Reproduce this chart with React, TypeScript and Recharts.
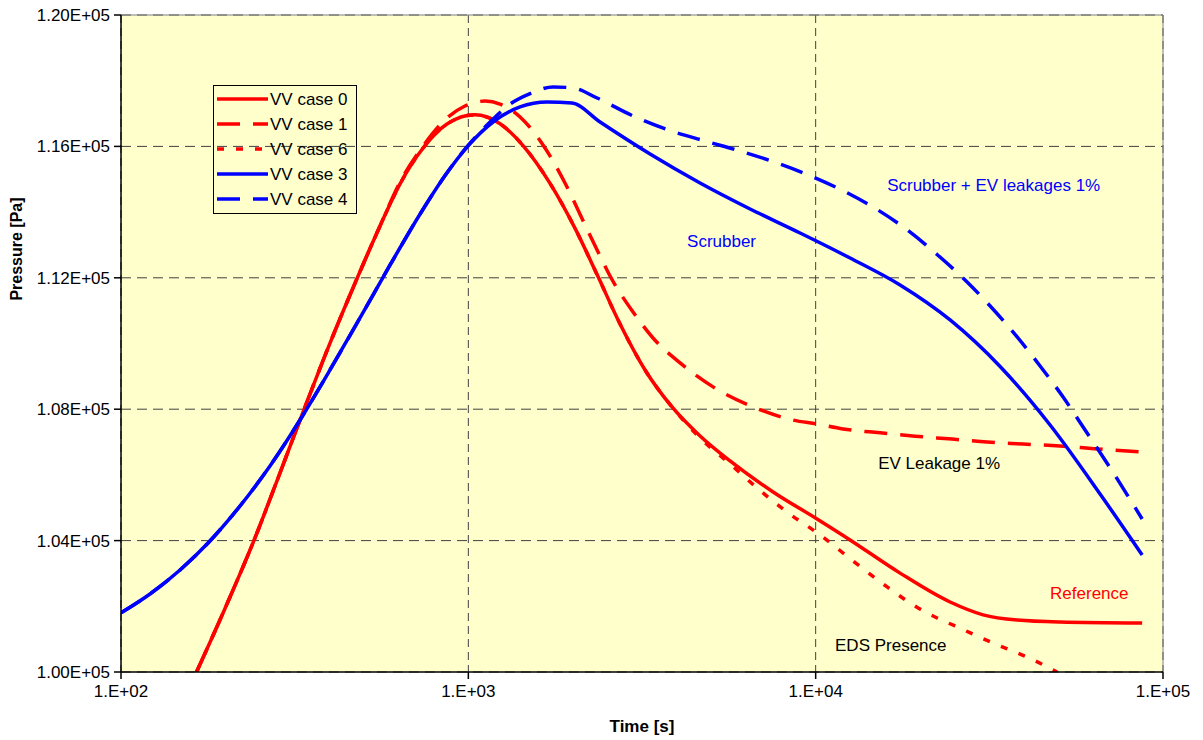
import React from 'react'
import {
  CartesianGrid,
  Legend,
  Line,
  LineChart,
  ReferenceDot,
  ReferenceLine,
  XAxis,
  YAxis,
} from 'recharts'

const FONT = '"Liberation Sans", Arial, Helvetica, sans-serif'

// time [s] / pressure [Pa]
const timeCase0 = [165, 199, 242, 285, 337, 400, 472, 557, 636, 741, 868, 1045, 1234, 1437, 1719, 2029, 2348, 2734, 3227, 3859, 4647, 5669, 7541, 10090, 12560, 17500, 24380, 30340, 38020, 50550, 87100]
const pressureCase0 = [100000, 101920, 104030, 105980, 108010, 110020, 111840, 113580, 114860, 115950, 116680, 116960, 116690, 116025, 114874, 113504, 112098, 110594, 109194, 108068, 107185, 106424, 105480, 104658, 104020, 103010, 102130, 101740, 101580, 101520, 101490]

const timeCase1 = [165, 199, 242, 285, 337, 400, 472, 557, 636, 741, 868, 978, 1117, 1234, 1409, 1641, 1898, 2168, 2395, 2559, 2980, 3402, 4070, 5064, 6604, 8608, 10090, 11990, 15330, 19330, 24700, 31150, 39560, 50550, 64620, 87100]
const pressureCase1 = [100000, 101920, 104030, 105980, 108010, 110020, 111840, 113580, 114917, 116012, 116865, 117230, 117380, 117290, 116895, 116043, 114886, 113608, 112664, 112055, 110959, 110168, 109410, 108680, 108070, 107670, 107550, 107400, 107280, 107180, 107090, 107000, 106940, 106880, 106790, 106700]

const timeCase6 = [165, 199, 242, 285, 337, 400, 472, 557, 636, 741, 868, 1045, 1234, 1437, 1719, 2029, 2348, 2734, 3227, 3859, 4647, 5669, 6781, 8272, 10300, 12820, 16060, 19720, 22360, 25200, 32420, 42270, 49550]
const pressureCase6 = [100000, 101920, 104030, 105980, 108010, 110020, 111840, 113580, 114860, 115950, 116680, 116960, 116690, 116025, 114874, 113504, 112098, 110594, 109194, 108068, 107124, 106332, 105602, 104870, 104170, 103380, 102590, 101949, 101645, 101401, 100880, 100370, 100000]

const timeCase3 = [100, 121.2, 147.9, 179.2, 220.1, 268.5, 327.6, 399.6, 487.6, 595.2, 726.4, 857.1, 1000, 1178, 1409, 1685, 1989, 2395, 3336, 4647, 6473, 9018, 12560, 17500, 24380, 33960, 47310, 65900, 87100]
const pressureCase3 = [101800, 102375, 103106, 103958, 105054, 106272, 107672, 109194, 110777, 112390, 113942, 115114, 116025, 116743, 117200, 117350, 117320, 116743, 115769, 114886, 114095, 113364, 112603, 111781, 110716, 109300, 107520, 105419, 103562]

const timeCase4 = [100, 121.2, 147.9, 179.2, 220.1, 268.5, 327.6, 399.6, 487.6, 595.2, 726.4, 857.1, 1000, 1155, 1319, 1506, 1754, 2002, 2348, 2980, 3808, 4740, 6058, 7744, 9637, 12310, 15030, 18340, 22360, 27290, 31800, 38020, 44270, 51570, 58880, 71840, 87100]
const pressureCase4 = [101800, 102375, 103106, 103958, 105054, 106272, 107672, 109194, 110777, 112390, 113942, 115114, 116040, 116740, 117290, 117610, 117810, 117780, 117473, 116926, 116481, 116180, 115860, 115495, 115108, 114591, 114079, 113460, 112710, 111873, 111142, 110200, 109316, 108370, 107459, 106074, 104658]

const xTicks = [100, 1000, 10000, 100000]
const yTicks = [100000, 104000, 108000, 112000, 116000, 120000]

// annotations: [text, time, pressure, colour]
const notes: [string, number, number, string][] = [
  ['Scrubber + EV leakages 1%', 16060, 114640, '#0000FF'],
  ['Scrubber', 4263, 112940, '#0000FF'],
  ['EV Leakage 1%', 15130, 106180, '#000000'],
  ['Reference', 47310, 102220, '#FF0000'],
  ['EDS Presence', 11370, 100640, '#000000'],
]

const toPoints = (t: number[], p: number[]) => t.map((time, i) => ({ time, pressure: p[i] }))

const series = [
  { name: 'VV case 0', color: '#FF0000', dash: undefined, data: toPoints(timeCase0, pressureCase0) },
  { name: 'VV case 1', color: '#FF0000', dash: '23 13', data: toPoints(timeCase1, pressureCase1) },
  { name: 'VV case 6', color: '#FF0000', dash: '7 12', data: toPoints(timeCase6, pressureCase6) },
  { name: 'VV case 3', color: '#0000FF', dash: undefined, data: toPoints(timeCase3, pressureCase3) },
  { name: 'VV case 4', color: '#0000FF', dash: '23 13', data: toPoints(timeCase4, pressureCase4) },
]

const fmtTime = (v: number) => `1.E+${String(Math.round(Math.log10(v))).padStart(2, '0')}`
const fmtPressure = (v: number) => `${(v / 100000).toFixed(2)}E+05`

function XTick(props: any) {
  const { x, y, payload } = props
  return (
    <text x={x} y={y + 16} textAnchor="middle" fontFamily={FONT} fontSize={17} fill="#000">
      {fmtTime(payload.value)}
    </text>
  )
}

function YTick(props: any) {
  const { x, y, payload } = props
  return (
    <text x={x} y={y + 6} textAnchor="end" fontFamily={FONT} fontSize={17} fill="#000">
      {fmtPressure(payload.value)}
    </text>
  )
}

function YTitle(props: any) {
  const vb = props.viewBox || { x: 0, y: 15 }
  const cx = vb.x + 22
  const cy = vb.y + 234
  return (
    <text
      x={cx}
      y={cy}
      transform={`rotate(-90 ${cx} ${cy})`}
      textAnchor="middle"
      fontFamily={FONT}
      fontSize={16}
      fontWeight="bold"
      fill="#000"
    >
      Pressure [Pa]
    </text>
  )
}

function XTitle(props: any) {
  const vb = props.viewBox || { x: 121, y: 672, width: 1042 }
  return (
    <text
      x={vb.x + vb.width / 2}
      y={vb.y + 60}
      textAnchor="middle"
      fontFamily={FONT}
      fontSize={17}
      fontWeight="bold"
      fill="#000"
    >
      Time [s]
    </text>
  )
}

function LegendBox() {
  return (
    <svg width={144} height={129} style={{ display: 'block' }}>
      <rect x={0.5} y={0.5} width={143} height={128} fill="none" stroke="#000" />
      {series.map((s, i) => {
        const cy = 14 + i * 25
        return (
          <g key={s.name}>
            <line x1={4} x2={55} y1={cy} y2={cy} stroke={s.color} strokeWidth={3.5} strokeDasharray={s.dash} />
            <text x={57} y={cy + 6} fontFamily={FONT} fontSize={17} fill="#000">
              {s.name}
            </text>
          </g>
        )
      })}
    </svg>
  )
}

export default function App() {
  return (
    <div style={{ position: 'absolute', left: 0, top: 0, width: 1203, height: 740, background: '#fff' }}>
      <LineChart width={1203} height={740} margin={{ top: 15, right: 40, bottom: 0, left: 0 }}>
        <CartesianGrid vertical={false} stroke="#404040" strokeDasharray="10 6" fill="#FFFFCC" fillOpacity={1} />
        <CartesianGrid horizontal={false} stroke="#404040" strokeDasharray="8 5" />
        <XAxis
          dataKey="time"
          type="number"
          scale="log"
          domain={[100, 100000]}
          ticks={xTicks}
          interval={0}
          allowDataOverflow
          height={68}
          tickSize={7}
          tick={<XTick />}
          stroke="#000"
          strokeWidth={1.5}
          label={{ content: (p: any) => <XTitle {...p} /> }}
        />
        <YAxis
          type="number"
          domain={[100000, 120000]}
          ticks={yTicks}
          interval={0}
          allowDataOverflow
          width={121}
          tickSize={7}
          tickMargin={4}
          tick={<YTick />}
          stroke="#000"
          strokeWidth={1.5}
          label={{ content: (p: any) => <YTitle {...p} /> }}
        />
        <ReferenceLine y={120000} stroke="#808080" />
        <ReferenceLine x={100000} stroke="#808080" />
        {series.map((s) => (
          <Line
            key={s.name}
            name={s.name}
            data={s.data}
            dataKey="pressure"
            type="monotone"
            stroke={s.color}
            strokeWidth={3.5}
            strokeDasharray={s.dash}
            dot={false}
            activeDot={false}
            isAnimationActive={false}
          />
        ))}
        {notes.map(([text, t, p, color]) => (
          <ReferenceDot
            key={text}
            x={t}
            y={p}
            r={1}
            shape={(props: any) => (
              <text x={props.cx} y={props.cy} fontFamily={FONT} fontSize={17} fill={color}>
                {text}
              </text>
            )}
          />
        ))}
        <Legend
          layout="vertical"
          align="center"
          verticalAlign="middle"
          wrapperStyle={{ left: 213, top: 85, width: 144, height: 129 }}
          content={() => <LegendBox />}
        />
      </LineChart>
    </div>
  )
}
